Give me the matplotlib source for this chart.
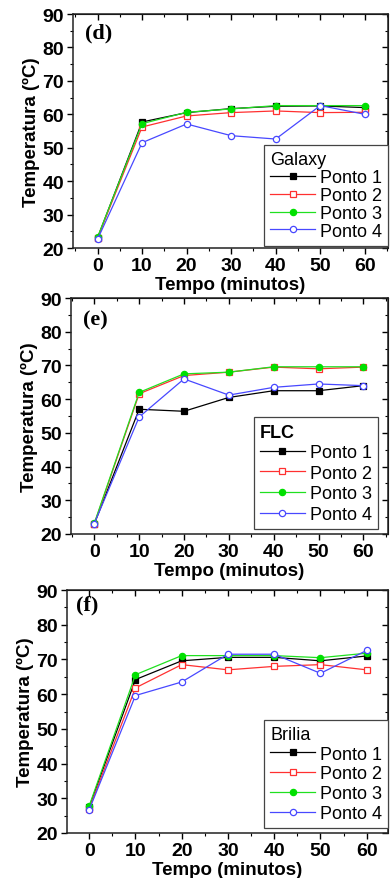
import matplotlib
matplotlib.use("Agg")
import matplotlib.pyplot as plt
from matplotlib.ticker import MultipleLocator

# Tempo (minutos)
tempo = [0, 10, 20, 30, 40, 50, 60]

# (d) Galaxy
galaxy_p1 = [23.0, 57.7, 60.5, 61.7, 62.4, 62.5, 62.0]
galaxy_p2 = [23.0, 56.2, 59.5, 60.5, 61.0, 60.5, 60.6]
galaxy_p3 = [23.2, 57.2, 60.6, 61.6, 62.6, 62.6, 62.6]
galaxy_p4 = [22.6, 51.5, 57.1, 53.6, 52.6, 62.6, 60.0]

# (e) FLC
flc_p1 = [23.0, 57.0, 56.4, 60.5, 62.5, 62.5, 64.0]
flc_p2 = [23.0, 61.6, 67.0, 68.0, 69.5, 69.0, 69.5]
flc_p3 = [23.2, 62.0, 67.5, 68.0, 69.6, 69.6, 69.6]
flc_p4 = [23.1, 54.7, 66.0, 61.2, 63.5, 64.5, 64.0]

# (f) Brilia
brilia_p1 = [27.5, 64.2, 69.6, 70.6, 70.6, 69.6, 71.0]
brilia_p2 = [27.0, 61.8, 68.5, 67.0, 68.0, 68.5, 67.0]
brilia_p3 = [27.8, 65.6, 71.1, 71.1, 71.1, 70.5, 71.8]
brilia_p4 = [26.7, 59.6, 63.5, 71.5, 71.5, 66.0, 72.6]

labels = ["Ponto 1", "Ponto 2", "Ponto 3", "Ponto 4"]

W, H = 390, 879
fig = plt.figure(figsize=(W / 100, H / 100), dpi=100)

styles = [
    dict(color="black", marker="s", mfc="black", mec="black"),
    dict(color="#ff3030", marker="s", mfc="white", mec="#ff3030"),
    dict(color="#20e020", marker="o", mfc="#00e000", mec="#00e000"),
    dict(color="#4848ff", marker="o", mfc="white", mec="#4848ff"),
]

panels = [
    # tag, tag pos, title, title bold, series, (left, right, top, bottom) px, xlim,
    # legend anchor, labelspacing
    ("(d)", (0.038, 0.923), "Galaxy", False, [galaxy_p1, galaxy_p2, galaxy_p3, galaxy_p4],
     (73, 388, 15, 249), (-5.5, 65.2), (1.0, 0.008), 0.05),
    ("(e)", (0.038, 0.91), "FLC", True, [flc_p1, flc_p2, flc_p3, flc_p4],
     (71, 388, 299, 535), (-5.2, 65.5), (0.968, 0.02), 0.2),
    ("(f)", (0.028, 0.94), "Brilia", False, [brilia_p1, brilia_p2, brilia_p3, brilia_p4],
     (67, 388, 591, 834), (-4.8, 64.6), (1.0, 0.02), 0.15),
]

sans = "Liberation Sans"

for tag, tagpos, title, tbold, series, (l, r, t, b), xlim, anchor, lspace in panels:
    ax = fig.add_axes([l / W, 1 - b / H, (r - l) / W, (b - t) / H])
    for vals, lab, st in zip(series, labels, styles):
        ax.plot(tempo, vals, lw=0.9, ms=4.5, mew=0.9, label=lab, **st)

    ax.set_xlim(*xlim)
    ax.set_ylim(20, 90)
    ax.xaxis.set_major_locator(MultipleLocator(10))
    ax.xaxis.set_minor_locator(MultipleLocator(5))
    ax.yaxis.set_major_locator(MultipleLocator(10))
    ax.yaxis.set_minor_locator(MultipleLocator(5))
    ax.tick_params(which="major", direction="out", length=4, width=1, pad=2.5)
    ax.tick_params(which="minor", direction="out", length=2.5, width=0.8)
    for lbl in ax.get_xticklabels() + ax.get_yticklabels():
        lbl.set_fontfamily(sans)
        lbl.set_fontweight("bold")
        lbl.set_fontsize(14)
    for sp in ax.spines.values():
        sp.set_linewidth(1.1)
        sp.set_color("#222222")

    # mirrored ticks on top and right, pointing inward
    top = ax.secondary_xaxis("top")
    top.xaxis.set_major_locator(MultipleLocator(10))
    top.xaxis.set_minor_locator(MultipleLocator(5))
    top.tick_params(which="major", direction="in", length=4, width=1, labeltop=False)
    top.tick_params(which="minor", direction="in", length=2.5, width=0.8)
    right = ax.secondary_yaxis("right")
    right.yaxis.set_major_locator(MultipleLocator(10))
    right.yaxis.set_minor_locator(MultipleLocator(5))
    right.tick_params(which="major", direction="in", length=4, width=1, labelright=False)
    right.tick_params(which="minor", direction="in", length=2.5, width=0.8)

    ax.set_xlabel("Tempo (minutos)", fontfamily=sans, fontweight="bold",
                  fontsize=13.5, labelpad=1.5)
    ax.set_ylabel("Temperatura (ºC)", fontfamily=sans, fontweight="bold",
                  fontsize=13.5, labelpad=2)

    ax.text(tagpos[0], tagpos[1], tag, transform=ax.transAxes,
            fontfamily="Liberation Serif", fontweight="bold", fontsize=16,
            va="center", ha="left")

    leg = ax.legend(loc="lower right", bbox_to_anchor=anchor, borderaxespad=0,
                    title=title, alignment="left", fancybox=False,
                    edgecolor="#444444", framealpha=1, handlelength=2.5,
                    handletextpad=0.25, labelspacing=lspace, borderpad=0.35,
                    prop={"family": sans, "size": 13})
    leg.get_frame().set_linewidth(0.9)
    leg.get_title().set_fontfamily(sans)
    leg.get_title().set_fontsize(13)
    if tbold:
        leg.get_title().set_fontweight("bold")

fig.savefig("out.png", dpi=100)
